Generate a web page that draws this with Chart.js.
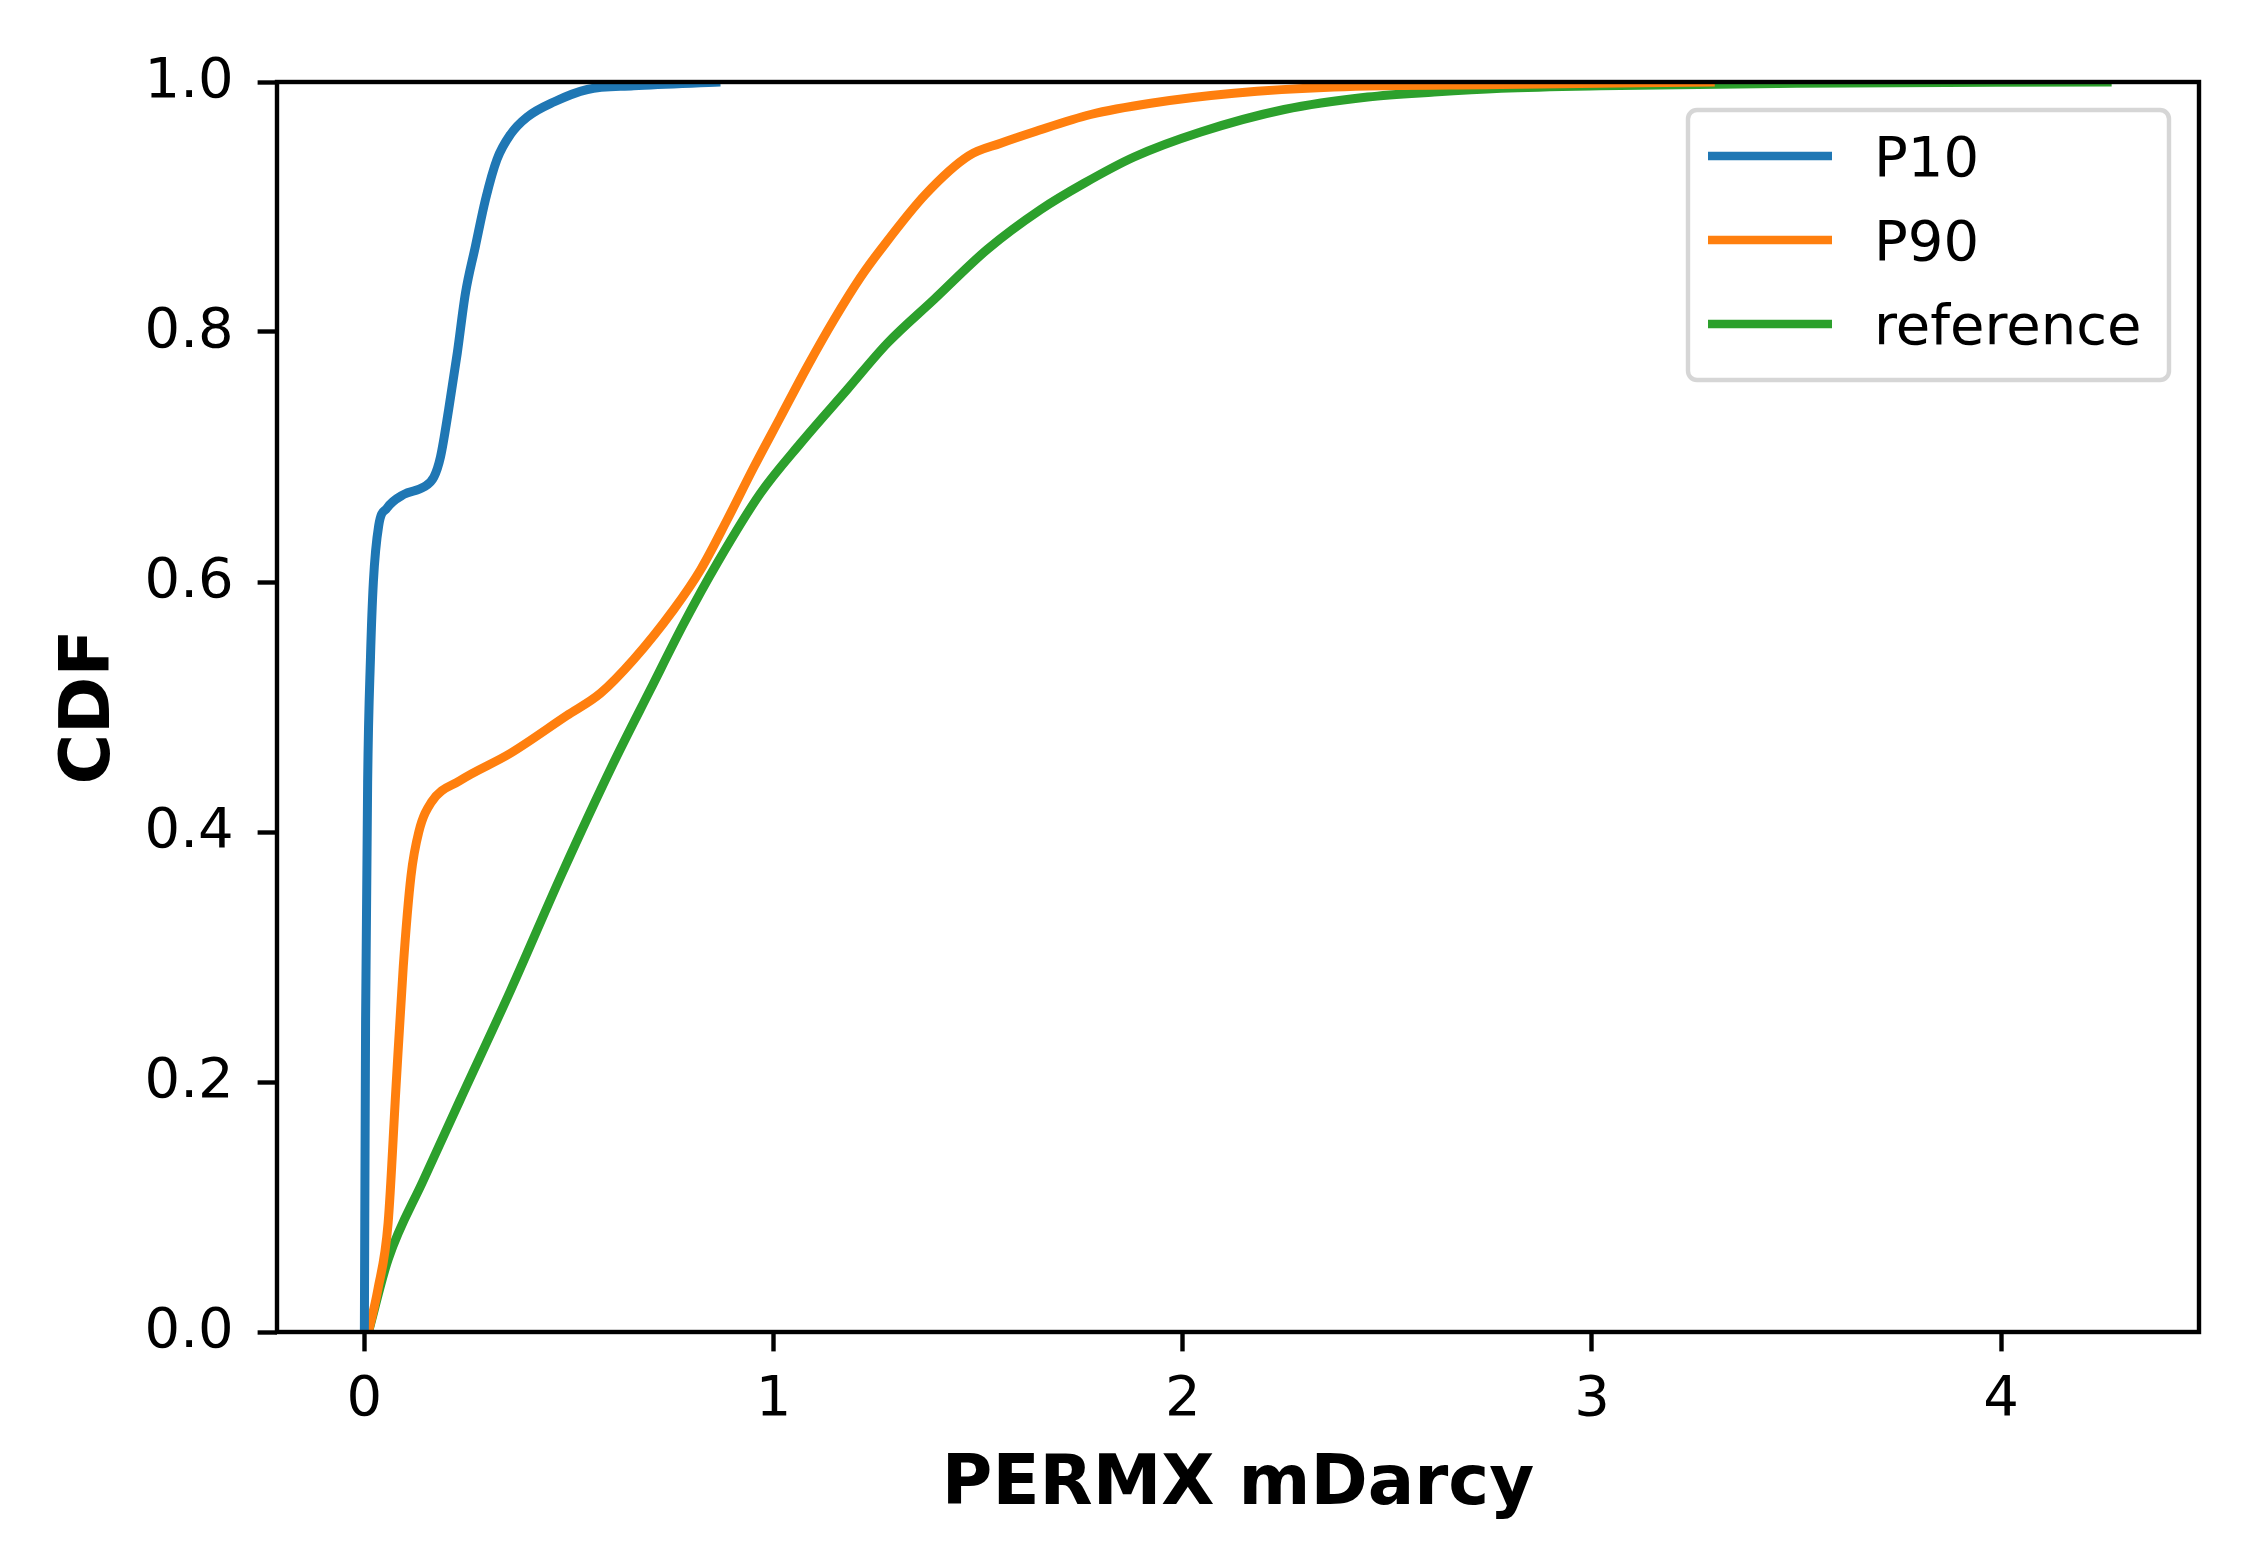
<!DOCTYPE html>
<html>
<head>
<meta charset="utf-8">
<script src="https://cdn.jsdelivr.net/npm/chart.js@4.4.1/dist/chart.umd.min.js"></script>
<style>
    html, body { margin: 0; padding: 0; background: #fff; }
    #cdf-chart { display: block; }
</style>
</head>
<body>
<canvas id="cdf-chart" width="2266" height="1558"></canvas>
<script>
// CDF curves, values
const p10X = [0, 0.003, 0.008, 0.015, 0.022, 0.035, 0.055, 0.096, 0.145, 0.170, 0.186, 0.206, 0.227, 0.247, 0.271, 0.296, 0.324, 0.357, 0.398, 0.463, 0.545, 0.658, 0.87];
const p10Y = [0, 0.25, 0.44, 0.54, 0.60, 0.645, 0.659, 0.670, 0.676, 0.684, 0.700, 0.738, 0.783, 0.831, 0.868, 0.906, 0.938, 0.958, 0.972, 0.984, 0.994, 0.997, 1.0];

const p90X = [0.01, 0.033, 0.058, 0.077, 0.095, 0.114, 0.133, 0.164, 0.233, 0.357, 0.494, 0.577, 0.658, 0.756, 0.822, 0.887, 0.952, 1.017, 1.082, 1.148, 1.213, 1.262, 1.371, 1.477, 1.555, 1.636, 1.775, 1.922, 2.125, 2.370, 2.778, 3.3];
const p90Y = [0, 0.034, 0.087, 0.194, 0.292, 0.365, 0.400, 0.424, 0.441, 0.463, 0.493, 0.511, 0.538, 0.578, 0.610, 0.650, 0.692, 0.732, 0.772, 0.810, 0.844, 0.866, 0.910, 0.941, 0.951, 0.960, 0.974, 0.983, 0.991, 0.996, 0.998, 1.0];

const refX = [0.01, 0.058, 0.145, 0.233, 0.357, 0.482, 0.607, 0.699, 0.781, 0.862, 0.968, 1.066, 1.180, 1.278, 1.392, 1.522, 1.653, 1.759, 1.881, 2.044, 2.248, 2.452, 2.614, 2.778, 3.02, 3.5, 4.27];
const refY = [0, 0.058, 0.122, 0.185, 0.273, 0.366, 0.454, 0.514, 0.567, 0.615, 0.671, 0.711, 0.754, 0.791, 0.826, 0.866, 0.898, 0.919, 0.940, 0.960, 0.978, 0.988, 0.992, 0.995, 0.997, 0.999, 1.0];

const seriesLabels = ['P10', 'P90', 'reference'];
const seriesColors = ['#1f77b4', '#ff7f0e', '#2ca02c'];

const xTicks = [0, 1, 2, 3, 4];
const yTicks = [0, 0.2, 0.4, 0.6, 0.8, 1.0];

const FONT = 'DejaVu Sans';

function toPoints(xs, ys) {
    return xs.map((x, i) => ({ x: x, y: ys[i] }));
}

function makeDataset(label, color, xs, ys) {
    return {
        label,
        data: toPoints(xs, ys),
        borderColor: color,
        backgroundColor: color,
        borderWidth: 9,
        borderJoinStyle: 'round',
        showLine: true,
        pointRadius: 0,
        cubicInterpolationMode: 'monotone',
        fill: false,
    };
}

// black box round the plot area, drawn over the lines like matplotlib spines
const spinePlugin = {
    id: 'spines',
    afterDatasetsDraw(chart) {
        const { ctx, chartArea: a } = chart;
        ctx.save();
        ctx.strokeStyle = '#000';
        ctx.lineWidth = 4.4;
        ctx.strokeRect(a.left, a.top, a.right - a.left, a.bottom - a.top);
        ctx.restore();
    }
};

// matplotlib style legend box in the upper right corner
const legendPlugin = {
    id: 'boxLegend',
    afterDraw(chart) {
        const { ctx, chartArea: a } = chart;
        const boxW = 481, boxH = 270;
        const left = a.right - 30 - boxW;
        const top = a.top + 28;
        ctx.save();
        ctx.beginPath();
        ctx.roundRect(left, top, boxW, boxH, 9);
        ctx.fillStyle = 'rgba(255,255,255,0.8)';
        ctx.fill();
        ctx.lineWidth = 4.4;
        ctx.strokeStyle = 'rgba(204,204,204,0.8)';
        ctx.stroke();
        ctx.font = '56px "' + FONT + '"';
        ctx.textBaseline = 'alphabetic';
        ctx.textAlign = 'left';
        chart.data.datasets.forEach((ds, i) => {
            const y = top + 46 + i * 84;
            ctx.strokeStyle = ds.borderColor;
            ctx.lineWidth = 8.5;
            ctx.beginPath();
            ctx.moveTo(left + 20, y);
            ctx.lineTo(left + 144, y);
            ctx.stroke();
            ctx.fillStyle = '#000';
            ctx.fillText(ds.label, left + 186, y + 20);
        });
        ctx.restore();
    }
};

const tickGrid = {
    display: true,
    drawOnChartArea: false,
    drawTicks: true,
    tickLength: 19.4,
    tickWidth: 4.4,
    tickColor: '#000',
};

new Chart(document.getElementById('cdf-chart'), {
    type: 'scatter',
    data: {
        datasets: [
            makeDataset(seriesLabels[0], seriesColors[0], p10X, p10Y),
            makeDataset(seriesLabels[1], seriesColors[1], p90X, p90Y),
            makeDataset(seriesLabels[2], seriesColors[2], refX, refY),
        ],
    },
    options: {
        responsive: false,
        animation: false,
        devicePixelRatio: 1,
        layout: { padding: { top: 82, right: 67, bottom: 0, left: 0 } },
        plugins: {
            legend: { display: false },
            tooltip: { enabled: false },
        },
        scales: {
            x: {
                type: 'linear',
                min: -0.2135,
                max: 4.4835,
                afterBuildTicks: s => { s.ticks = xTicks.map(v => ({ value: v })); },
                afterFit: s => { s.height = 226; },
                ticks: {
                    autoSkip: false,
                    maxRotation: 0,
                    padding: 15,
                    color: '#000',
                    font: { family: FONT, size: 56 },
                    callback: v => v.toFixed(0),
                },
                grid: tickGrid,
                border: { display: false },
                title: {
                    display: true,
                    text: 'PERMX mDarcy',
                    color: '#000',
                    font: { family: FONT, size: 69, weight: 'bold' },
                    padding: { top: 0, bottom: 31 },
                },
            },
            y: {
                type: 'linear',
                min: 0,
                max: 1,
                afterBuildTicks: s => { s.ticks = yTicks.map(v => ({ value: v })); },
                afterFit: s => { s.width = 277; },
                ticks: {
                    autoSkip: false,
                    padding: 24,
                    color: '#000',
                    font: { family: FONT, size: 56 },
                    callback: v => v.toFixed(1),
                },
                grid: tickGrid,
                border: { display: false },
                title: {
                    display: true,
                    text: 'CDF',
                    color: '#000',
                    font: { family: FONT, size: 69, weight: 'bold' },
                    padding: { top: 50, bottom: 0 },
                },
            },
        },
    },
    plugins: [spinePlugin, legendPlugin],
});
</script>
</body>
</html>
